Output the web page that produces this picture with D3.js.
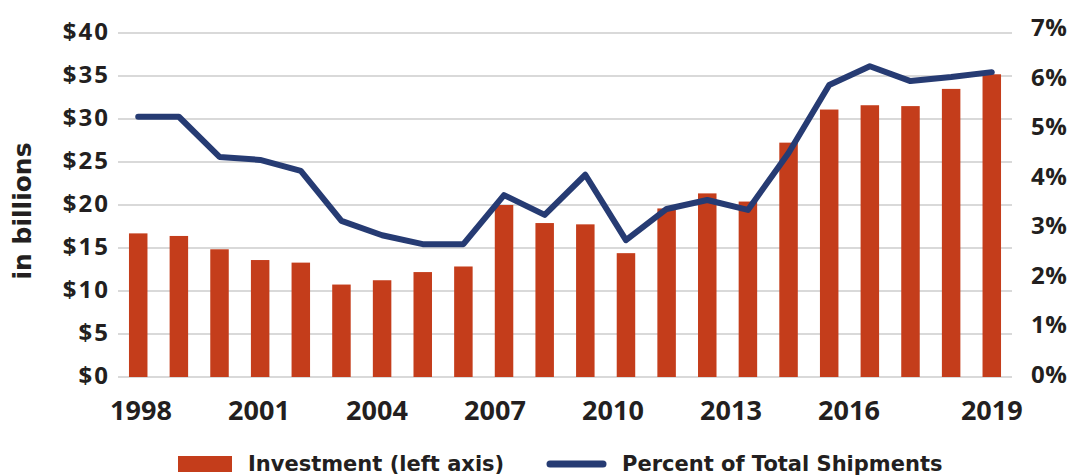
<!DOCTYPE html>
<html><head><meta charset="utf-8">
<script src="https://cdn.jsdelivr.net/npm/d3@7"></script>
<style>body{margin:0;background:#fff}svg{display:block}</style>
</head><body>
<svg id="chart" width="1070" height="476"></svg>
<script>
const years = [1998,1999,2000,2001,2002,2003,2004,2005,2006,2007,2008,2009,2010,2011,2012,2013,2014,2015,2016,2017,2018,2019];
const investment = [16.7,16.4,14.85,13.6,13.3,10.75,11.25,12.2,12.85,20.0,17.9,17.75,14.4,19.6,21.35,20.4,27.25,31.1,31.6,31.5,33.5,35.2];
const percentShipments = [5.27,5.27,4.46,4.40,4.18,3.17,2.88,2.70,2.70,3.69,3.29,4.10,2.78,3.41,3.59,3.39,4.54,5.91,6.29,5.99,6.07,6.17];
const leftTicks = [0,5,10,15,20,25,30,35,40];
const rightTicks = [0,1,2,3,4,5,6,7];
const xTickYears = [1998,2001,2004,2007,2010,2013,2016,2019];
const legendLabels = ["Investment (left axis)","Percent of Total Shipments"];

const svg = d3.select("#chart");
const plot = {left:118, right:1012, top:33, bottom:377};
const RED = "#C43D1B", NAVY = "#263B73", GRID = "#D9D9D9", TXT = "#231F20";

const x = d3.scaleBand().domain(years).range([plot.left, plot.right]).paddingInner(0.545).paddingOuter(0.27);
const yL = d3.scaleLinear().domain([0,40]).range([plot.bottom, plot.top]);
const yR = d3.scaleLinear().domain([0,7]).range([378, 31]);
// tick label positions (labels in the original sit on their own evenly spaced slots)
const xLab = d3.scaleLinear().domain([1998,2016]).range([141,849]);

// gridlines
svg.append("g").selectAll("line").data(leftTicks).join("line")
  .attr("x1", plot.left).attr("x2", plot.right)
  .attr("y1", d=>yL(d)).attr("y2", d=>yL(d))
  .attr("stroke", GRID).attr("stroke-width", 2);

// left axis labels
svg.append("g").selectAll("text").data(leftTicks).join("text")
  .attr("x", 110).attr("y", d=>yL(d)+7)
  .attr("text-anchor","end")
  .attr("font-family","Open Sans").attr("font-weight","bold").attr("font-size",24)
  .attr("letter-spacing","2px").attr("fill",TXT)
  .text(d=>"$"+d);

// right axis labels
svg.append("g").selectAll("text").data(rightTicks).join("text")
  .attr("x", 1031).attr("y", d=>yR(d)+5)
  .attr("text-anchor","start")
  .attr("font-family","Open Sans").attr("font-weight","bold").attr("font-size",24)
  .attr("letter-spacing","0.5px").attr("fill",TXT)
  .text(d=>d+"%");

// y-axis title
svg.append("text")
  .attr("transform","translate(31,211) rotate(-90)")
  .attr("text-anchor","middle")
  .attr("font-family","DejaVu Sans").attr("font-weight","bold").attr("font-size",25)
  .attr("fill",TXT).text("in billions");

// x labels
svg.append("g").selectAll("text").data(xTickYears).join("text")
  .attr("x", d=> d===2019 ? x(d)+x.bandwidth()/2 : xLab(d))
  .attr("y", 420)
  .attr("text-anchor","middle")
  .attr("font-family","Open Sans").attr("font-weight","bold").attr("font-size",27)
  .attr("fill",TXT).text(d=>d);

// bars
svg.append("g").selectAll("rect").data(years).join("rect")
  .attr("x", d=>x(d)).attr("width", x.bandwidth())
  .attr("y", (d,i)=>yL(investment[i]))
  .attr("height", (d,i)=>yL(0)-yL(investment[i]))
  .attr("fill", RED);

// line
const line = d3.line().x((d,i)=>x(years[i])+x.bandwidth()/2).y(d=>yR(d));
svg.append("path").datum(percentShipments)
  .attr("d", line).attr("fill","none")
  .attr("stroke", NAVY).attr("stroke-width", 6)
  .attr("stroke-linejoin","round").attr("stroke-linecap","round");

// legend
const lg = svg.append("g");
lg.append("rect").attr("x",178).attr("y",456).attr("width",54).attr("height",16).attr("fill",RED);
lg.append("text").attr("x",248).attr("y",471)
  .attr("font-family","DejaVu Sans").attr("font-weight","bold").attr("font-size",21)
  .attr("fill",TXT).text(legendLabels[0]);
lg.append("line").attr("x1",550).attr("x2",603).attr("y1",464).attr("y2",464)
  .attr("stroke",NAVY).attr("stroke-width",7).attr("stroke-linecap","round");
lg.append("text").attr("x",622).attr("y",471)
  .attr("font-family","DejaVu Sans").attr("font-weight","bold").attr("font-size",21)
  .attr("fill",TXT).text(legendLabels[1]);
</script>
</body></html>
